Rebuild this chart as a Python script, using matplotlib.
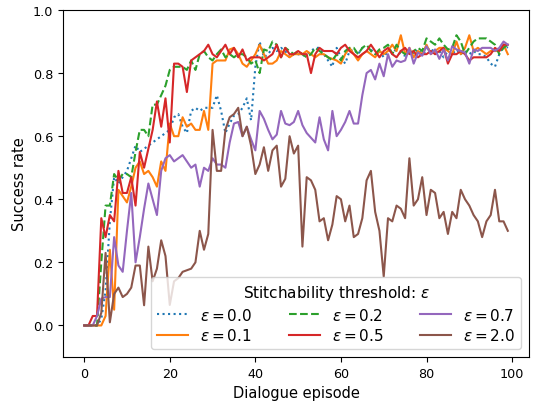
import matplotlib
matplotlib.use('Agg')
import matplotlib.pyplot as plt
import numpy as np


episodes = list(range(100))

# success rate per stitchability threshold
eps_labels = ['0.0', '0.1', '0.2', '0.5', '0.7', '2.0']

eps_00 = [0.0, 0.0, 0.0, 0.0, 0.02, 0.11, 0.33, 0.47, 0.45, 0.47,
          0.49, 0.53, 0.57, 0.55, 0.56, 0.57, 0.58, 0.59, 0.60, 0.61,
          0.62, 0.66, 0.67, 0.63, 0.61, 0.68, 0.69, 0.68, 0.69, 0.69,
          0.69, 0.73, 0.68, 0.61, 0.64, 0.665, 0.67, 0.69, 0.72, 0.65,
          0.82, 0.90, 0.85, 0.86, 0.88, 0.87, 0.88, 0.87, 0.85, 0.86,
          0.86, 0.855, 0.86, 0.87, 0.88, 0.88, 0.86, 0.84, 0.82, 0.88,
          0.85, 0.83, 0.87, 0.875, 0.86, 0.88, 0.87, 0.875, 0.86, 0.87,
          0.85, 0.87, 0.875, 0.87, 0.86, 0.855, 0.87, 0.86, 0.875, 0.86,
          0.87, 0.88, 0.86, 0.87, 0.85, 0.87, 0.86, 0.875, 0.86, 0.87,
          0.86, 0.87, 0.86, 0.86, 0.85, 0.83, 0.82, 0.86, 0.89, 0.88]

eps_01 = [0.0, 0.0, 0.0, 0.0, 0.0, 0.03, 0.24, 0.05, 0.43, 0.41,
          0.39, 0.44, 0.50, 0.52, 0.48, 0.49, 0.47, 0.44, 0.52, 0.49,
          0.64, 0.60, 0.60, 0.66, 0.63, 0.64, 0.62, 0.62, 0.68, 0.62,
          0.83, 0.84, 0.84, 0.84, 0.875, 0.88, 0.86, 0.83, 0.82, 0.84,
          0.86, 0.89, 0.86, 0.83, 0.83, 0.84, 0.87, 0.86, 0.85, 0.86,
          0.86, 0.86, 0.87, 0.86, 0.85, 0.86, 0.86, 0.85, 0.845, 0.84,
          0.83, 0.86, 0.88, 0.86, 0.84, 0.86, 0.87, 0.86, 0.85, 0.87,
          0.86, 0.87, 0.89, 0.87, 0.92, 0.86, 0.88, 0.85, 0.87, 0.86,
          0.89, 0.86, 0.87, 0.88, 0.88, 0.87, 0.86, 0.90, 0.86, 0.88,
          0.92, 0.87, 0.88, 0.87, 0.86, 0.87, 0.87, 0.87, 0.89, 0.86]

eps_02 = [0.0, 0.0, 0.0, 0.0, 0.20, 0.38, 0.38, 0.48, 0.46, 0.48,
          0.48, 0.47, 0.55, 0.62, 0.62, 0.60, 0.70, 0.70, 0.73, 0.76,
          0.81, 0.82, 0.82, 0.82, 0.81, 0.84, 0.81, 0.86, 0.87, 0.85,
          0.84, 0.86, 0.875, 0.85, 0.86, 0.85, 0.86, 0.86, 0.85, 0.83,
          0.84, 0.80, 0.875, 0.87, 0.90, 0.89, 0.85, 0.88, 0.87, 0.86,
          0.87, 0.86, 0.85, 0.86, 0.88, 0.87, 0.86, 0.85, 0.84, 0.86,
          0.84, 0.87, 0.88, 0.88, 0.86, 0.88, 0.89, 0.87, 0.86, 0.875,
          0.88, 0.89, 0.86, 0.89, 0.87, 0.86, 0.86, 0.87, 0.88, 0.87,
          0.91, 0.90, 0.89, 0.91, 0.89, 0.875, 0.88, 0.92, 0.90, 0.86,
          0.88, 0.90, 0.91, 0.91, 0.91, 0.90, 0.89, 0.86, 0.88, 0.89]

eps_05 = [0.0, 0.0, 0.03, 0.03, 0.34, 0.28, 0.35, 0.33, 0.49, 0.42,
          0.42, 0.47, 0.38, 0.55, 0.50, 0.56, 0.62, 0.71, 0.63, 0.72,
          0.58, 0.83, 0.83, 0.82, 0.74, 0.84, 0.85, 0.86, 0.87, 0.89,
          0.86, 0.85, 0.87, 0.89, 0.86, 0.88, 0.85, 0.875, 0.84, 0.85,
          0.85, 0.85, 0.84, 0.85, 0.86, 0.89, 0.85, 0.88, 0.86, 0.86,
          0.87, 0.86, 0.86, 0.80, 0.86, 0.88, 0.87, 0.87, 0.87, 0.86,
          0.88, 0.89, 0.87, 0.86, 0.85, 0.86, 0.87, 0.89, 0.87, 0.85,
          0.87, 0.88, 0.86, 0.85, 0.87, 0.88, 0.86, 0.87, 0.85, 0.86,
          0.86, 0.87, 0.86, 0.87, 0.88, 0.83, 0.86, 0.86, 0.87, 0.86,
          0.84, 0.85, 0.85, 0.85, 0.85, 0.86, 0.88, 0.87, 0.89, 0.89]

eps_07 = [0.0, 0.0, 0.0, 0.03, 0.085, 0.09, 0.09, 0.28, 0.19, 0.17,
          0.30, 0.42, 0.20, 0.28, 0.37, 0.45, 0.40, 0.35, 0.49, 0.53,
          0.54, 0.52, 0.53, 0.54, 0.52, 0.50, 0.51, 0.44, 0.50, 0.49,
          0.53, 0.51, 0.51, 0.50, 0.58, 0.64, 0.645, 0.60, 0.63, 0.59,
          0.555, 0.68, 0.655, 0.62, 0.59, 0.605, 0.68, 0.64, 0.635, 0.645,
          0.68, 0.635, 0.61, 0.595, 0.58, 0.66, 0.59, 0.555, 0.68, 0.60,
          0.62, 0.645, 0.68, 0.64, 0.64, 0.73, 0.80, 0.81, 0.78, 0.83,
          0.79, 0.86, 0.82, 0.84, 0.835, 0.84, 0.88, 0.83, 0.865, 0.855,
          0.885, 0.86, 0.875, 0.845, 0.875, 0.84, 0.885, 0.875, 0.87, 0.865,
          0.83, 0.875, 0.87, 0.88, 0.88, 0.88, 0.87, 0.88, 0.90, 0.89]

eps_20 = [0.0, 0.0, 0.0, 0.0, 0.04, 0.23, 0.01, 0.10, 0.12, 0.09,
          0.10, 0.12, 0.19, 0.19, 0.064, 0.25, 0.14, 0.18, 0.27, 0.22,
          0.065, 0.14, 0.15, 0.17, 0.175, 0.18, 0.20, 0.30, 0.24, 0.29,
          0.62, 0.49, 0.49, 0.62, 0.66, 0.67, 0.69, 0.60, 0.63, 0.57,
          0.48, 0.51, 0.565, 0.49, 0.555, 0.57, 0.44, 0.465, 0.60, 0.545,
          0.57, 0.25, 0.47, 0.46, 0.43, 0.33, 0.34, 0.27, 0.32, 0.41,
          0.40, 0.33, 0.38, 0.28, 0.29, 0.34, 0.46, 0.49, 0.36, 0.30,
          0.155, 0.34, 0.33, 0.38, 0.37, 0.34, 0.53, 0.38, 0.40, 0.47,
          0.35, 0.43, 0.42, 0.34, 0.36, 0.29, 0.36, 0.34, 0.43, 0.40,
          0.38, 0.35, 0.33, 0.28, 0.33, 0.35, 0.43, 0.33, 0.33, 0.30]

series = [eps_00, eps_01, eps_02, eps_05, eps_07, eps_20]
styles = [':', '-', '--', '-', '-', '-']

fig = plt.figure(figsize=(5.36, 4.02), dpi=100)
ax = fig.add_axes([63 / 536, 1 - 358 / 402, 466 / 536, 347 / 402])

for i in range(len(series)):
    ax.plot(episodes, series[i], linestyle=styles[i], color='C' + str(i),
            linewidth=1.5, label=r'$\varepsilon = ' + eps_labels[i] + '$')

ax.set_ylim(-0.1, 1.0)
ax.set_xticks([0, 20, 40, 60, 80, 100])
ax.set_yticks([0.0, 0.2, 0.4, 0.6, 0.8, 1.0])
ax.tick_params(labelsize=9.2)
ax.set_xlabel('Dialogue episode', fontsize=10.5)
ax.set_ylabel('Success rate', fontsize=10.5)
ax.legend(title=r'Stitchability threshold: $\varepsilon$', ncol=3,
          loc='lower right', fontsize=11, title_fontsize=11,
          columnspacing=2.4, labelspacing=0.3)

fig.savefig('out.png', dpi=100)
